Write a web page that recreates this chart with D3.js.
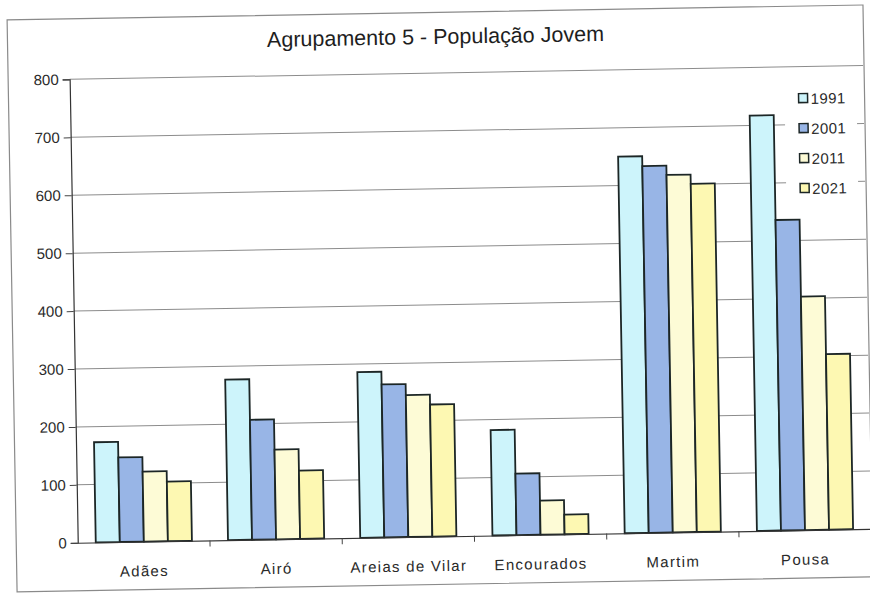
<!DOCTYPE html>
<html>
<head>
<meta charset="utf-8">
<script src="https://cdn.jsdelivr.net/npm/d3@7"></script>
<style>
  html, body { margin: 0; padding: 0; background: #ffffff; }
  svg { display: block; }
  text { font-family: "Liberation Sans", Arial, sans-serif; }
</style>
</head>
<body>
<svg id="chart" width="870" height="594"></svg>
<script>
// ---- data ----
const title = "Agrupamento 5 - População Jovem";
const categories = ["Adães", "Airó", "Areias de Vilar", "Encourados", "Martim", "Pousa"];
const seriesNames = ["1991", "2001", "2011", "2021"];
const values1991 = [173, 277, 286, 182, 650, 717];
const values2001 = [146, 207, 264, 106, 633, 536];
const values2011 = [121, 155, 245, 59, 617, 403];
const values2021 = [103, 118, 228, 34, 601, 303];
const yTicks = [0, 100, 200, 300, 400, 500, 600, 700, 800];
const seriesColors = ["#cdf4fb", "#98b5e6", "#fdfbd6", "#fdf8b2"];

const seriesValues = [values1991, values2001, values2011, values2021];

// ---- layout ----
const W = 870, H = 594;
const plot = { left: 73.5, right: 867, top: 73, bottom: 536.5 };

const svg = d3.select("#chart");
svg.append("rect").attr("width", W).attr("height", H).attr("fill", "#ffffff");

// whole chart slightly rotated, like the scanned reference
const g = svg.append("g").attr("transform", "rotate(-1 435 297)");

// outer chart border
g.append("rect")
  .attr("x", 12).attr("y", 12.5).attr("width", 856).attr("height", 572)
  .attr("fill", "#ffffff").attr("stroke", "#8a8a8a").attr("stroke-width", 1.2);

// title
g.append("text")
  .attr("x", 440).attr("y", 44)
  .attr("text-anchor", "middle")
  .attr("font-size", 21.5)
  .attr("fill", "#1e1e1e")
  .text(title);

// scales
const x0 = d3.scaleBand().domain(categories).range([plot.left, plot.right]).paddingInner(0).paddingOuter(0);
const bw = x0.bandwidth();
const barW = bw / 5.5;                // Excel gap width 150%
const y = d3.scaleLinear().domain([0, 800]).range([plot.bottom, plot.top]);

// gridlines
g.append("g").selectAll("line").data(yTicks.filter(d => d > 0)).join("line")
  .attr("x1", plot.left).attr("x2", plot.right)
  .attr("y1", d => y(d)).attr("y2", d => y(d))
  .attr("stroke", "#8c8c8c").attr("stroke-width", 1);

// y axis
const yAxis = d3.axisLeft(y).tickValues(yTicks).tickSize(7).tickPadding(4).tickFormat(d3.format("d"));
const ya = g.append("g").attr("transform", `translate(${plot.left},0)`).call(yAxis);
ya.select(".domain").attr("stroke", "#333").attr("stroke-width", 1.2);
ya.selectAll(".tick line").attr("stroke", "#444");
ya.selectAll(".tick text")
  .attr("font-size", 15).attr("fill", "#2a2a2a")
  .attr("font-family", "'Liberation Sans', Arial, sans-serif");

// bars
const groups = g.append("g").selectAll("g").data(categories).join("g")
  .attr("transform", d => `translate(${x0(d)},0)`);
groups.each(function(cat, ci) {
  d3.select(this).selectAll("rect").data(seriesValues.map((s, si) => ({ v: s[ci], si }))).join("rect")
    .attr("x", d => barW * 0.75 + d.si * barW)
    .attr("y", d => y(d.v))
    .attr("width", barW)
    .attr("height", d => y(0) - y(d.v))
    .attr("fill", d => seriesColors[d.si])
    .attr("stroke", "#1c2626")
    .attr("stroke-width", 1.8);
});

// x axis
const xAxis = d3.axisBottom(x0).tickSize(0).tickPadding(24);
const xa = g.append("g").attr("transform", `translate(0,${plot.bottom})`).call(xAxis);
xa.select(".domain").attr("stroke", "#333").attr("stroke-width", 1.2);
xa.selectAll(".tick text")
  .attr("font-size", 15).attr("fill", "#2a2a2a")
  .attr("letter-spacing", "1.3px")
  .attr("font-family", "'Liberation Sans', Arial, sans-serif");
// category boundary tick marks
g.append("g").selectAll("line").data(categories.slice(1)).join("line")
  .attr("x1", d => x0(d)).attr("x2", d => x0(d))
  .attr("y1", plot.bottom).attr("y2", plot.bottom + 6)
  .attr("stroke", "#444").attr("stroke-width", 1);

// legend
const legend = g.append("g");
legend.append("rect")
  .attr("x", 788).attr("y", 88).attr("width", 72).attr("height", 122)
  .attr("fill", "#ffffff");
const li = legend.selectAll("g").data(seriesNames).join("g")
  .attr("transform", (d, i) => `translate(802,${105 + i * 30})`);
li.append("rect")
  .attr("x", 0).attr("y", -5).attr("width", 9).attr("height", 9)
  .attr("fill", (d, i) => seriesColors[i])
  .attr("stroke", "#1c2626").attr("stroke-width", 1.5);
li.append("text")
  .attr("x", 12).attr("y", 5.5)
  .attr("font-size", 15).attr("fill", "#2a2a2a")
  .attr("letter-spacing", "0.4px")
  .text(d => d);
</script>
</body>
</html>
